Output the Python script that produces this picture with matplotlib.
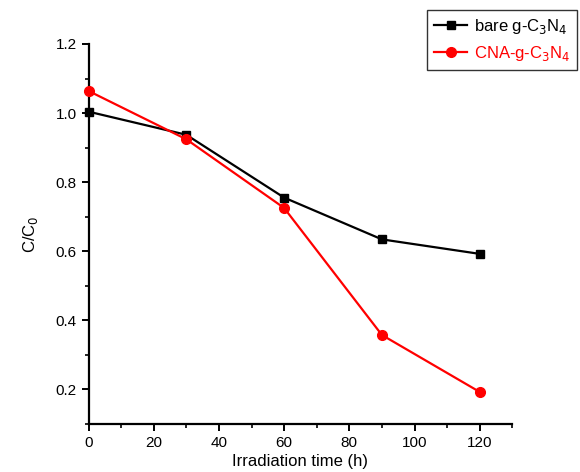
import matplotlib
matplotlib.use("Agg")
import matplotlib.pyplot as plt
from matplotlib.ticker import MultipleLocator, FormatStrFormatter

plt.rcParams['font.family'] = ['Liberation Sans', 'DejaVu Sans']

time_h = [0, 30, 60, 90, 120]
bare_g_c3n4 = [1.004, 0.937, 0.755, 0.634, 0.592]
cna_g_c3n4 = [1.064, 0.924, 0.725, 0.357, 0.192]

fig = plt.figure(figsize=(5.8, 4.72), dpi=100)
ax = fig.add_axes([0.1526, 0.1023, 0.8833 - 0.1526, 0.9068 - 0.1023])

ax.plot(time_h, bare_g_c3n4, color='black', lw=1.6, marker='s', ms=6,
        label=r'bare g-C$_3$N$_4$', clip_on=False, zorder=3)
ax.plot(time_h, cna_g_c3n4, color='red', lw=1.6, marker='o', ms=7,
        label=r'CNA-g-C$_3$N$_4$', clip_on=False, zorder=3)

ax.set_xlim(0, 130)
ax.set_ylim(0.1, 1.2)
ax.xaxis.set_major_locator(MultipleLocator(20))
ax.xaxis.set_minor_locator(MultipleLocator(10))
ax.yaxis.set_minor_locator(MultipleLocator(0.1))
ax.set_yticks([0.2, 0.4, 0.6, 0.8, 1.0, 1.2])
ax.yaxis.set_major_formatter(FormatStrFormatter('%.1f'))

for s in ['top', 'right']:
    ax.spines[s].set_visible(False)
for s in ['left', 'bottom']:
    ax.spines[s].set_linewidth(1.6)

ax.tick_params(which='major', direction='out', length=5, width=1.4, labelsize=11)
ax.tick_params(which='minor', direction='out', length=3, width=1.2)

ax.set_xlabel('Irradiation time (h)', fontsize=12, labelpad=3)
ax.set_ylabel(r'C/C$_0$', fontsize=12, labelpad=11)

leg = fig.legend(loc='upper right', bbox_to_anchor=(0.995, 0.979), fontsize=12,
                 frameon=True, fancybox=False, edgecolor='black', borderaxespad=0,
                 handlelength=2.0, borderpad=0.4, labelspacing=0.5, handletextpad=0.4)
leg.get_frame().set_linewidth(1.0)
for txt, line in zip(leg.get_texts(), leg.get_lines()):
    txt.set_color(line.get_color())

fig.savefig('out.png', dpi=100)
